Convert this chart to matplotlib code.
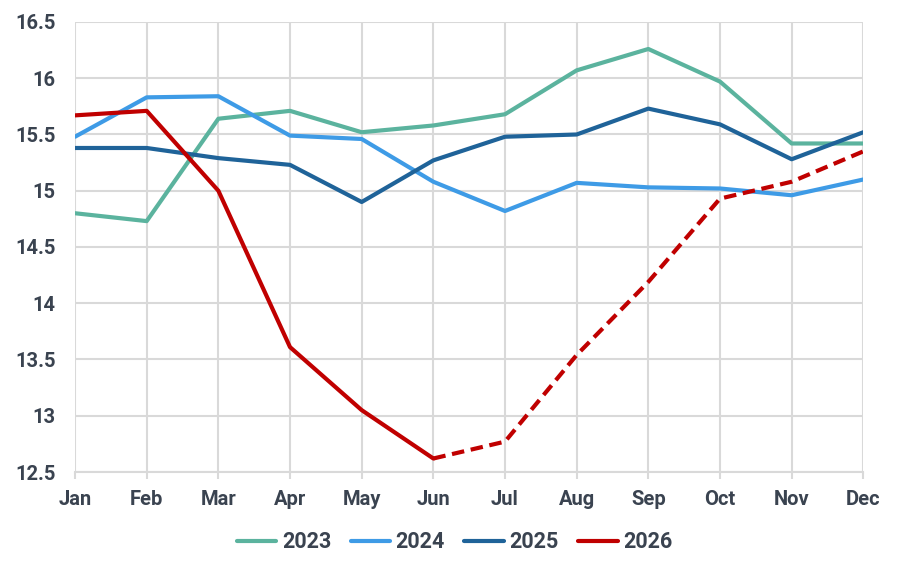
import matplotlib.pyplot as plt

plt.rcParams['font.family'] = ['Roboto', 'DejaVu Sans']

months = ["Jan", "Feb", "Mar", "Apr", "May", "Jun",
          "Jul", "Aug", "Sep", "Oct", "Nov", "Dec"]

y2023 = [14.80, 14.73, 15.64, 15.71, 15.52, 15.58, 15.68, 16.07, 16.26, 15.97, 15.42, 15.42]
y2024 = [15.48, 15.83, 15.84, 15.49, 15.46, 15.08, 14.82, 15.07, 15.03, 15.02, 14.96, 15.10]
y2025 = [15.38, 15.38, 15.29, 15.23, 14.90, 15.27, 15.48, 15.50, 15.73, 15.59, 15.28, 15.52]
# 2026: actuals through Jun, forecast after
y2026_actual = [15.67, 15.71, 15.00, 13.61, 13.05, 12.62]
y2026_forecast = [12.62, 12.77, 13.54, 14.19, 14.93, 15.08, 15.35]

yticks = [12.5, 13, 13.5, 14, 14.5, 15, 15.5, 16, 16.5]
ytick_labels = ["12.5", "13", "13.5", "14", "14.5", "15", "15.5", "16", "16.5"]

text_color = "#3A4350"
grid_color = "#D9D9D9"

fig = plt.figure(figsize=(9.04, 5.74), dpi=100)
ax = fig.add_axes([0.083, 0.1777, 0.872, 0.784])

x = list(range(12))
ax.plot(x, y2023, color="#5BB39E", lw=3, label="2023", solid_capstyle="round")
ax.plot(x, y2024, color="#3E9BE6", lw=3, label="2024", solid_capstyle="round")
ax.plot(x, y2025, color="#1F6399", lw=3, label="2025", solid_capstyle="round")
ax.plot(x[:6], y2026_actual, color="#C00000", lw=3, label="2026", solid_capstyle="round")
ax.plot(x[5:], y2026_forecast, color="#C00000", lw=3, dashes=(3, 1.6))

ax.set_xlim(0, 11)
ax.set_ylim(12.5, 16.5)
ax.set_xticks(x)
ax.set_xticklabels(months)
ax.set_yticks(yticks)
ax.set_yticklabels(ytick_labels)

ax.grid(True, color=grid_color, lw=1.5)
ax.set_axisbelow(True)
for s in ["top", "right", "left"]:
    ax.spines[s].set_visible(False)
ax.spines["bottom"].set_color(grid_color)
ax.spines["bottom"].set_linewidth(1.5)

ax.tick_params(axis="x", length=5, width=1.5, color=grid_color, pad=8,
               labelsize=14.5, labelcolor=text_color)
ax.tick_params(axis="y", length=0, pad=14, labelsize=14.5, labelcolor=text_color)
for lab in ax.get_xticklabels() + ax.get_yticklabels():
    lab.set_fontweight("bold")

leg = fig.legend(loc="center", bbox_to_anchor=(0.503, 0.055), ncol=4, frameon=False,
                 handlelength=1.85, handletextpad=0.25, columnspacing=0.9,
                 prop={"size": 15.5, "weight": "bold"})
for t in leg.get_texts():
    t.set_color(text_color)

fig.savefig("out.png", dpi=100)
